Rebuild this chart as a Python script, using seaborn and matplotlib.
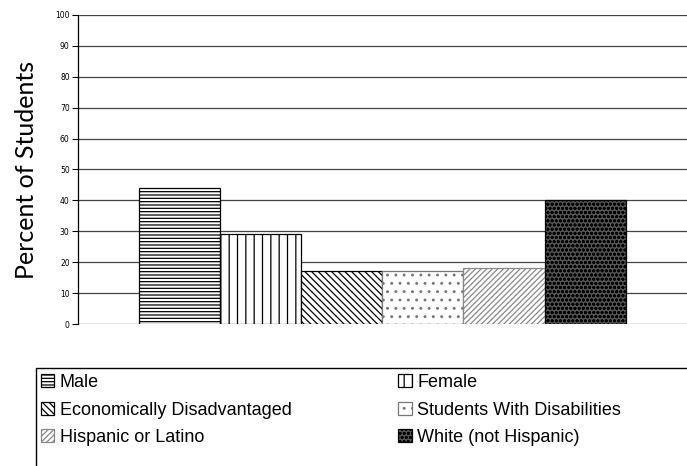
import matplotlib.pyplot as plt
from matplotlib.patches import Rectangle
import seaborn as sns
import pandas as pd

# data
groups = ["Male", "Female", "Economically Disadvantaged",
          "Students With Disabilities", "Hispanic or Latino", "White (not Hispanic)"]
percents = [44, 29, 17, 17, 18, 40]

hatches = ["-----", "||", "\\\\\\\\\\", "..", "//////", "oooo"]
faces = ["white", "white", "white", "white", "white", "#555555"]
edges = ["black", "black", "black", "#777777", "#888888", "black"]

df = pd.DataFrame({"x": [""] * len(groups), "group": groups, "pct": percents})

sns.set_style("white")
plt.rcParams["hatch.linewidth"] = 0.9
plt.rcParams["text.color"] = "black"
plt.rcParams["axes.labelcolor"] = "black"
plt.rcParams["ytick.color"] = "black"

fig = plt.figure(figsize=(6.87, 4.66), dpi=100)
ax = fig.add_axes([0.1135, 0.3047, 0.886, 0.6633])

ax = sns.barplot(data=df, x="x", y="pct", hue="group", hue_order=groups,
                 width=0.8, legend=False, ax=ax, saturation=1)

for cont, h, fc, ec in zip(ax.containers, hatches, faces, edges):
    for bar in cont:
        bar.set_facecolor(fc)
        bar.set_edgecolor(ec)
        bar.set_linewidth(0.9)
        bar.set_hatch(h)

ax.set_xlim(-0.5, 0.5)
ax.set_ylim(0, 100)
ax.set_yticks(range(0, 101, 10))
ax.yaxis.grid(True, color="#444444", linewidth=0.9)
ax.set_axisbelow(True)
ax.set_xticks([])
ax.set_xlabel("")
ax.set_ylabel("Percent of Students", fontsize=18, family="Lato", labelpad=12)
ax.tick_params(axis="y", labelsize=5.5, left=True, length=4, width=0.8, pad=2)
for s in ["top", "right", "bottom"]:
    ax.spines[s].set_visible(False)
ax.spines["left"].set_color("black")
ax.spines["left"].set_linewidth(0.9)

# legend, filled column by column; its box runs past the figure edge
handles = [c.patches[0] for c in ax.containers]
order = [0, 2, 4, 1, 3, 5]
leg = fig.legend([handles[i] for i in order], [groups[i] for i in order],
                 loc="upper left", bbox_to_anchor=(0.054, 0.205), ncol=2,
                 frameon=False, borderaxespad=0,
                 prop={"family": "Liberation Sans", "size": 13},
                 handlelength=0.75, handleheight=0.75, handletextpad=0.3,
                 columnspacing=5.9, labelspacing=0.58, borderpad=0.2)
fig.patches.append(Rectangle((36 / 687, -0.1), 0.99, 0.1 + (466 - 368) / 466,
                             transform=fig.transFigure, fill=False,
                             edgecolor="black", linewidth=1.0))

fig.savefig("out.png", dpi=100)
